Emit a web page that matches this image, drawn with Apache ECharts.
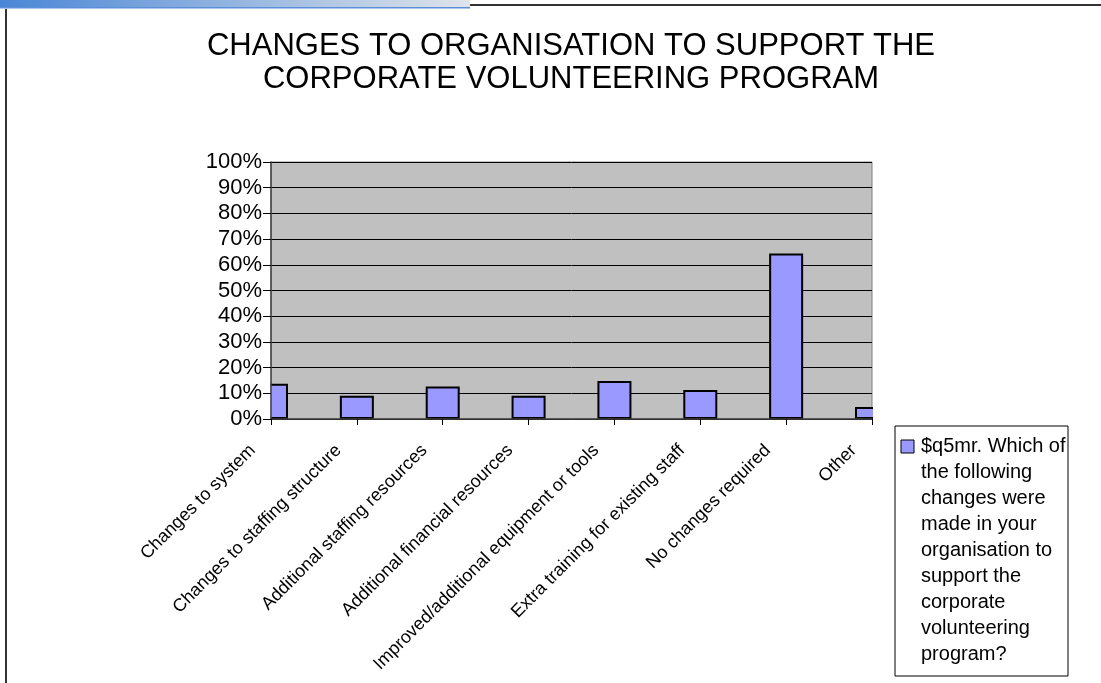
<!DOCTYPE html>
<html>
<head>
<meta charset="utf-8">
<script src="https://cdn.jsdelivr.net/npm/echarts@6/dist/echarts.min.js"></script>
<style>
html,body{margin:0;padding:0;background:#fff;}
#c{width:1101px;height:683px;}
</style>
</head>
<body>
<div id="c"></div>
<script>
const categories = [
  "Changes to system",
  "Changes to staffing structure",
  "Additional staffing resources",
  "Additional financial resources",
  "Improved/additional equipment or tools",
  "Extra training for existing staff",
  "No changes required",
  "Other"
];
const values = [13.7, 9.0, 12.6, 9.0, 14.8, 11.3, 64.4, 4.7];
const seriesName = "$q5mr. Which of the following changes were made in your organisation to support the corporate volunteering program?";
const legendLines = ["$q5mr. Which of", "the following", "changes were", "made in your", "organisation to", "support the", "corporate", "volunteering", "program?"];
const titleText = "CHANGES TO ORGANISATION TO SUPPORT THE\nCORPORATE VOLUNTEERING PROGRAM";

const chart = echarts.init(document.getElementById('c'));
const font = "'Liberation Sans', Arial, sans-serif";
chart.setOption({
  animation: false,
  backgroundColor: '#ffffff',
  title: {
    text: titleText,
    left: 566, top: 25, textAlign: 'center',
    textStyle: {fontFamily: font, fontSize: 31, fontWeight: 'normal', color: '#000', lineHeight: 33}
  },
  grid: {
    left: 271, top: 162, right: 229, bottom: 264,
    show: true, backgroundColor: '#c0c0c0', borderColor: '#808080', borderWidth: 1
  },
  xAxis: {
    type: 'category', data: categories, boundaryGap: false, z: 5,
    axisLine: {lineStyle: {color: '#404040', width: 1.5}},
    axisTick: {show: true, length: 6, lineStyle: {color: '#000'}},
    axisLabel: {rotate: 45, fontFamily: font, fontSize: 18, color: '#000', margin: 23, interval: 0,
                align: 'right', verticalAlign: 'bottom', padding: [0, 17, 0, 0]}
  },
  yAxis: [{
    type: 'value', min: 0, max: 100, interval: 10,
    axisLine: {show: false}, axisTick: {show: false}, axisLabel: {show: false},
    splitLine: {lineStyle: {color: '#000', width: 1}}
  }, {
    type: 'value', min: 0, max: 100, interval: 10, position: 'left', z: 5,
    axisLine: {show: true, lineStyle: {color: '#404040', width: 1.5}},
    axisTick: {show: true, length: 8, lineStyle: {color: '#000'}},
    axisLabel: {formatter: '{value}%', fontFamily: font, fontSize: 22, color: '#000', margin: 9},
    splitLine: {show: false}
  }],
  series: [{
    type: 'bar', name: seriesName, data: values, barWidth: 34, yAxisIndex: 0,
    itemStyle: {color: '#9999ff', borderColor: '#000', borderWidth: 2}
  }],
  graphic: [
    {type: 'rect', shape: {x: 0, y: 0, width: 470, height: 7},
     style: {fill: new echarts.graphic.LinearGradient(0, 0, 1, 0, [{offset: 0, color: '#4a86d6'}, {offset: 1, color: '#dfe4ea'}])}},
    {type: 'rect', shape: {x: 0, y: 7, width: 470, height: 1.5}, style: {fill: '#5b90d8'}},
    {type: 'line', shape: {x1: 470, y1: 5, x2: 1101, y2: 5}, style: {stroke: '#333', lineWidth: 2}},
    {type: 'line', shape: {x1: 6, y1: 9, x2: 6, y2: 683}, style: {stroke: '#333', lineWidth: 2}},
    {type: 'rect', z: 3, shape: {x: 230, y: 360, width: 40.5, height: 62}, style: {fill: '#fff'}},
    {type: 'rect', z: 3, shape: {x: 873, y: 380, width: 20, height: 42}, style: {fill: '#fff'}},
    {type: 'rect', z: 3, shape: {x: 895, y: 426, width: 173, height: 250},
     style: {fill: '#fff', stroke: '#000', lineWidth: 1}},
    {type: 'rect', z: 3, shape: {x: 901, y: 440, width: 13, height: 13},
     style: {fill: '#9999ff', stroke: '#000', lineWidth: 1}},
    {type: 'text', z: 3, left: 921, top: 433,
     style: {text: legendLines.join('\n'), font: '20px ' + font, fill: '#000', lineHeight: 26}}
  ]
});
</script>
</body>
</html>
